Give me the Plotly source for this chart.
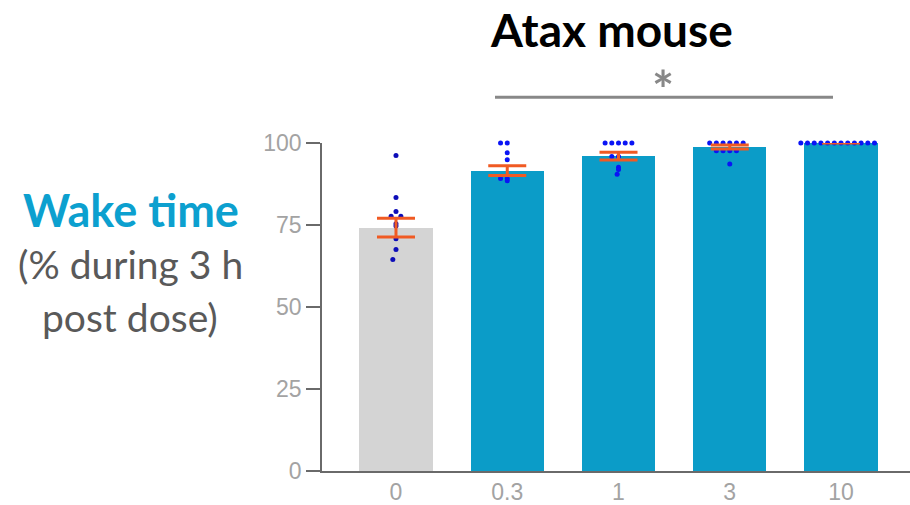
import numpy as np
import plotly.graph_objects as go

# Dose groups (mg/kg) and summary statistics
doses = ["0", "0.3", "1", "3", "10"]
wake_mean = [74.2, 91.6, 96.0, 98.8, 100.0]
wake_sem = [2.85, 1.5, 1.2, 0.6, 0.0]

# Individual animals, % wake during 3 h post dose
wake_dose_0 = [96.2, 83.4, 79.1, 77.7, 77.7, 75.4, 74.7, 70.8, 67.5, 64.5, 62.7, 61.4]
wake_dose_03 = [100.0, 100.0, 97.0, 94.9, 89.2, 89.2, 88.5, 87.9, 87.9, 86.9, 86.3]
wake_dose_1 = [100.0, 100.0, 100.0, 100.0, 100.0, 95.9, 95.9, 92.6, 91.9, 90.5, 88.5]
wake_dose_3 = [100.0, 100.0, 100.0, 100.0, 100.0, 100.0, 97.6, 97.6, 97.6, 97.6, 93.6]
wake_dose_10 = [100.0] * 12
individual = [wake_dose_0, wake_dose_03, wake_dose_1, wake_dose_3, wake_dose_10]

bar_colors = ["#d4d4d4", "#0b9cc8", "#0b9cc8", "#0b9cc8", "#0b9cc8"]
dot_colors = ["#0d0db8", "#0a14f5", "#0a14f5", "#0a14f5", "#0a14f5"]

# Plot geometry (px) used for the beeswarm spacing
W, H = 910, 505
M_L, M_R, M_T, M_B = 322, 0, 143, 34
X_RANGE = [-0.665, 4.62]
Y_RANGE = [0, 100]
px_per_x = (W - M_L - M_R) / (X_RANGE[1] - X_RANGE[0])
px_per_y = (H - M_T - M_B) / (Y_RANGE[1] - Y_RANGE[0])
DOT_SPACING = 6.7  # px between dot centres


def beeswarm(values):
    """Horizontal offsets (data units) so dots don't overlap."""
    placed = []
    offsets = []
    for v in values:
        y = v * px_per_y
        cands = [0.0]
        for (px, py) in placed:
            dy = abs(y - py)
            if dy < DOT_SPACING:
                dx = np.sqrt(DOT_SPACING ** 2 - dy ** 2)
                cands += [px + dx, px - dx]
        cands = sorted(set(round(c, 4) for c in cands), key=lambda c: (abs(c), c))
        for c in cands:
            ok = all((c - px) ** 2 + (y - py) ** 2 >= DOT_SPACING ** 2 - 1e-6
                     for (px, py) in placed)
            if ok:
                placed.append((c, y))
                offsets.append(c / px_per_x)
                break
    return offsets


xpos = list(range(len(doses)))

fig = go.Figure()

fig.add_trace(go.Bar(
    x=xpos, y=wake_mean, width=0.66,
    marker=dict(color=bar_colors, line=dict(width=0)),
    hoverinfo="skip", showlegend=False,
))

for i, vals in enumerate(individual):
    offs = beeswarm(vals)
    fig.add_trace(go.Scatter(
        x=[i + o for o in offs], y=vals, mode="markers",
        marker=dict(size=5, color=dot_colors[i], line=dict(width=0)),
        cliponaxis=False, showlegend=False, hoverinfo="skip",
    ))

fig.add_trace(go.Scatter(
    x=xpos, y=wake_mean, mode="markers",
    marker=dict(size=1, color="rgba(0,0,0,0)"),
    error_y=dict(type="data", array=wake_sem, visible=True,
                 color="#f05a23", thickness=3, width=19),
    cliponaxis=False, showlegend=False, hoverinfo="skip",
))

axis_color = "#6a6a6a"
tick_font = dict(family="Liberation Sans, Arial, sans-serif", size=23, color="#a3a3a3")

fig.update_xaxes(
    range=X_RANGE, tickmode="array", tickvals=xpos, ticktext=doses,
    showline=True, linecolor=axis_color, linewidth=1.5,
    ticks="", showgrid=False, zeroline=False, tickfont=tick_font,
)
fig.update_yaxes(
    range=Y_RANGE, tickmode="array", tickvals=[0, 25, 50, 75, 100],
    showline=True, linecolor=axis_color, linewidth=1.5,
    ticks="outside", ticklen=14, tickwidth=1.5, tickcolor=axis_color,
    showgrid=False, zeroline=False, tickfont=tick_font,
)


def py(ypx):
    return (H - M_B - ypx) / (H - M_T - M_B)


def px(xpx):
    return (xpx - M_L) / (W - M_L - M_R)


label_font = "Lato, 'Source Sans Pro', 'Open Sans', sans-serif"
annotations = [
    dict(text="<b>Atax mouse</b>", x=px(611), y=py(1), yanchor="top",
         font=dict(family=label_font, size=46, color="#000000")),
    dict(text="<b>*</b>", x=px(663), y=py(89), font=dict(family=label_font, size=52, color="#888888")),
    dict(text="<b>Wake time</b>", x=px(131), y=py(210), font=dict(family=label_font, size=45, color="#0ca0cf")),
    dict(text="(% during 3 h", x=px(130), y=py(264), font=dict(family=label_font, size=39, color="#595959")),
    dict(text="post dose)", x=px(130), y=py(317), font=dict(family=label_font, size=39, color="#595959")),
]
for a in annotations:
    a.setdefault("yanchor", "middle")
    a.update(xref="paper", yref="paper", xanchor="center", showarrow=False, borderpad=0)

fig.update_layout(
    width=W, height=H,
    margin=dict(l=M_L, r=M_R, t=M_T, b=M_B, pad=0),
    paper_bgcolor="white", plot_bgcolor="white",
    bargap=0, annotations=annotations,
    shapes=[dict(type="line", xref="paper", yref="paper",
                 x0=px(495), x1=px(833), y0=py(97.3), y1=py(97.3),
                 line=dict(color="#888888", width=3))],
)

fig.write_html("out.html")
